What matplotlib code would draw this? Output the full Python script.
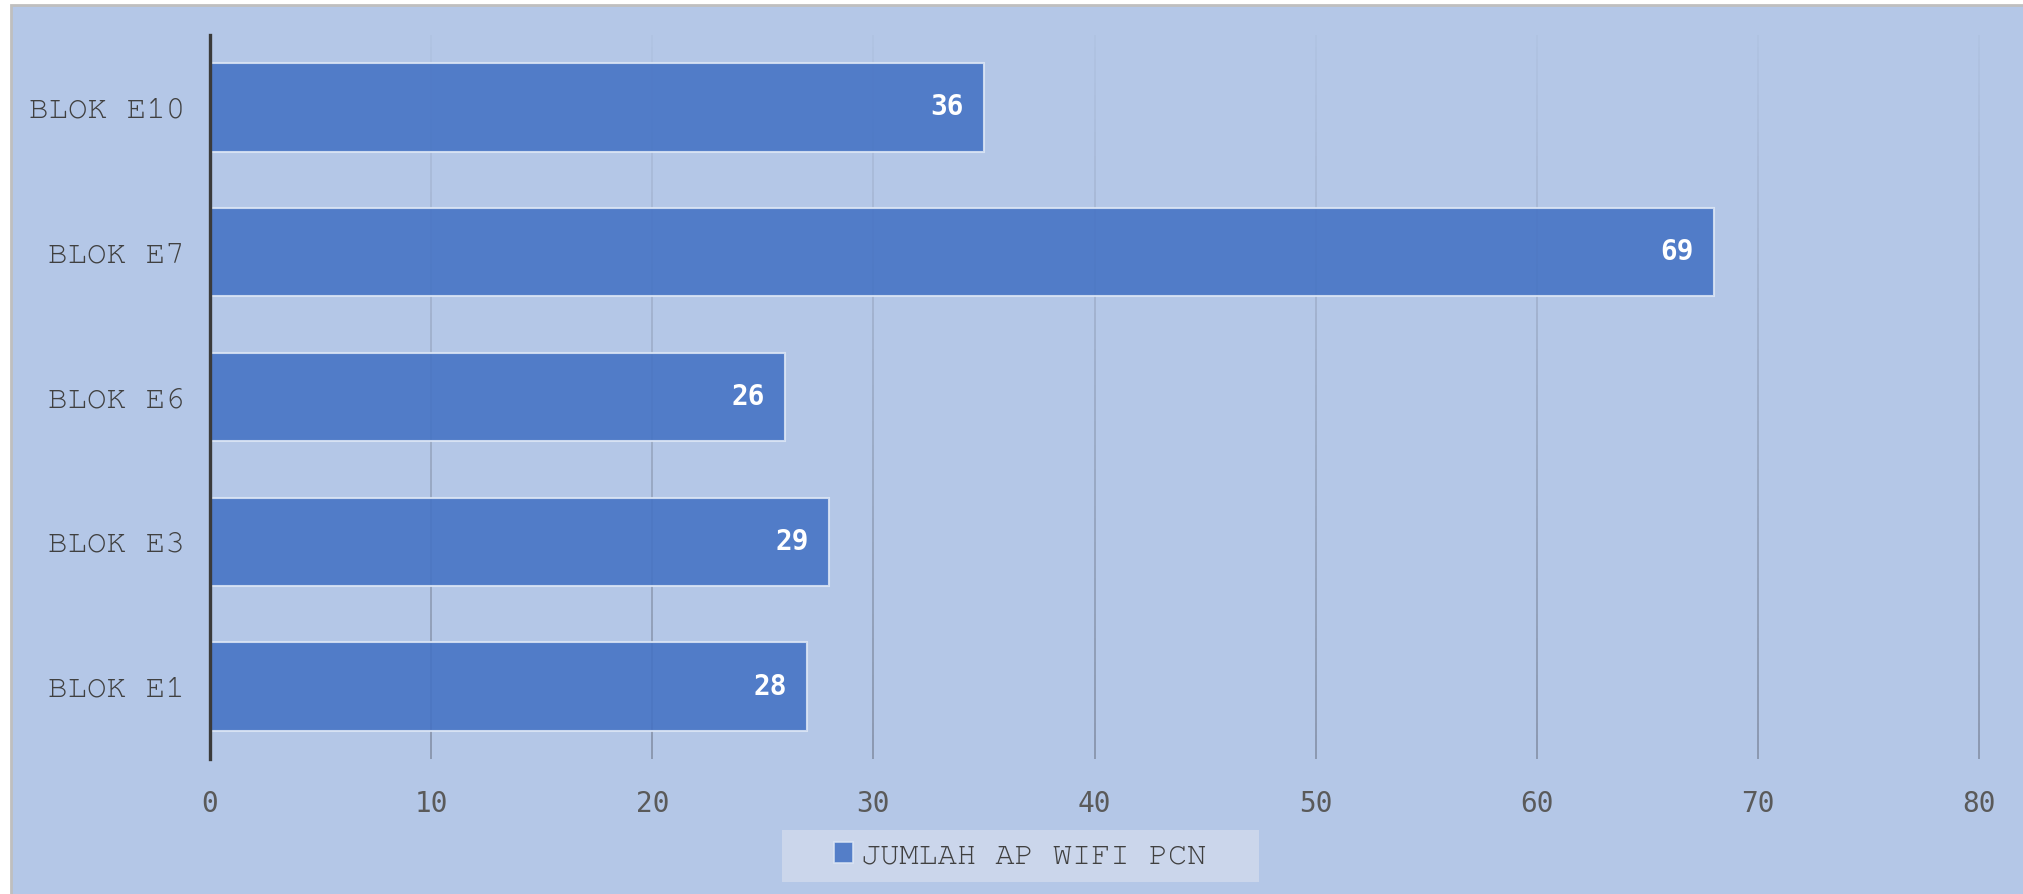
import matplotlib
matplotlib.use('Agg')
import numpy as np
import matplotlib.pyplot as plt
from matplotlib.collections import LineCollection
from matplotlib.patches import Rectangle, Patch

# data (bottom to top)
categories = ["BLOK E1", "BLOK E3", "BLOK E6", "BLOK E7", "BLOK E10"]
bar_values = [27, 28, 26, 68, 35]
bar_labels = ["28", "29", "26", "69", "36"]
x_ticks = [0, 10, 20, 30, 40, 50, 60, 70, 80]
series_name = "JUMLAH AP WIFI PCN"

BG = '#B4C7E7'
BAR = '#4472C4'
TXT = '#404040'
MONO = ['Courier New', 'Nimbus Mono PS', 'FreeMono', 'Liberation Mono']

fig = plt.figure(figsize=(20.23, 8.94), dpi=100)
fig.patch.set_facecolor('white')
fig.patches.append(Rectangle((11 / 2023, -0.01), 1.02, 1 - 5 / 894 + 0.01,
                             transform=fig.transFigure, facecolor=BG,
                             edgecolor='#BFBFBF', linewidth=2, zorder=-10))
# legend background box
fig.patches.append(Rectangle((782 / 2023, 1 - 882 / 894), 477 / 2023, 52 / 894,
                             transform=fig.transFigure, facecolor='#CBD6EB',
                             edgecolor='none', zorder=-5))

ax = fig.add_axes([210 / 2023, 1 - 759 / 894, (1979 - 210) / 2023, (759 - 35) / 894])
ax.set_facecolor('none')

y = np.arange(len(categories))
ax.set_xlim(0, 80)
ax.set_ylim(-0.5, len(categories) - 0.5)

# gradient gridlines: faint at top, darker at bottom
nseg = 60
edges = np.linspace(-0.5, len(categories) - 0.5, nseg + 1)
segs, cols = [], []
for xt in x_ticks[1:]:
    for i in range(nseg):
        a = 0.6 - 0.55 * (i / (nseg - 1))
        segs.append([(xt, edges[i]), (xt, edges[i + 1])])
        cols.append((0.42, 0.45, 0.52, a))
ax.add_collection(LineCollection(segs, colors=cols, linewidths=1.3, zorder=1,
                                 clip_on=False))

bars = ax.barh(y, bar_values, height=0.61, color=BAR, alpha=0.88,
               edgecolor='#DCE6F5', linewidth=1.5, zorder=2)

for b, lab in zip(bars, bar_labels):
    ax.text(b.get_width() - 0.9, b.get_y() + b.get_height() / 2, lab,
            ha='right', va='center', color='white', fontsize=20,
            fontweight='bold', family='DejaVu Sans Mono', zorder=3)

for s in ['top', 'right', 'bottom']:
    ax.spines[s].set_visible(False)
ax.spines['left'].set_color('#3A3A3A')
ax.spines['left'].set_linewidth(2.4)
ax.spines['left'].set_zorder(4)

ax.set_yticks(y)
ax.set_yticklabels(categories, family=MONO, fontsize=23.5, color=TXT)
ax.set_xticks(x_ticks)
ax.set_xticklabels([str(v) for v in x_ticks], family='DejaVu Sans Mono',
                   fontsize=20, color='#5A5A5A')
ax.tick_params(axis='both', length=0)
ax.tick_params(axis='y', pad=18)
ax.tick_params(axis='x', pad=22)

leg = fig.legend(handles=[Patch(facecolor=BAR, edgecolor='#DCE6F5', linewidth=1.2,
                                alpha=0.88, label=series_name)],
                 loc='center', bbox_to_anchor=(1020 / 2023, 1 - 856 / 894),
                 frameon=False, handlelength=0.6, handleheight=0.6,
                 handletextpad=0.25, borderpad=0, borderaxespad=0,
                 prop={'family': MONO, 'size': 23})
for t in leg.get_texts():
    t.set_color(TXT)

fig.savefig('out.png', dpi=100, facecolor=fig.get_facecolor())
